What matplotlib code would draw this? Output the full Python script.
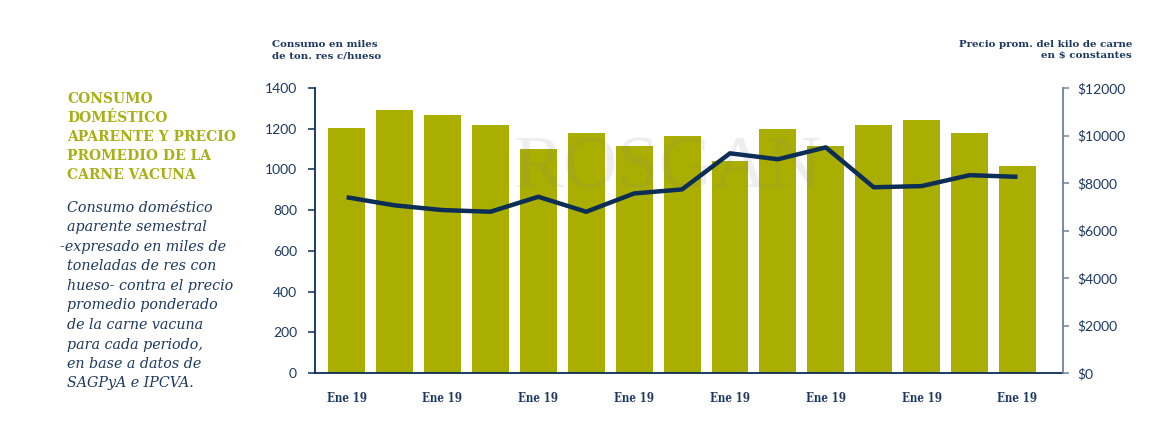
import matplotlib
matplotlib.use("Agg")
import matplotlib.pyplot as plt
import numpy as np

# ---- data ----
periods = list(range(15))
tick_positions = [0, 2, 4, 6, 8, 10, 12, 14]
tick_labels = ["Ene 19"] * 8
consumo = [1203, 1292, 1267, 1218, 1100, 1179, 1115, 1164, 1043, 1200, 1115, 1220, 1243, 1180, 1017]
precio = [7400, 7060, 6860, 6790, 7420, 6790, 7560, 7730, 9250, 9000, 9500, 7820, 7870, 8330, 8260]
left_ticks = [0, 200, 400, 600, 800, 1000, 1200, 1400]
right_ticks = [0, 2000, 4000, 6000, 8000, 10000, 12000]

title_lines = ["CONSUMO", "DOMÉSTICO", "APARENTE Y PRECIO", "PROMEDIO DE LA", "CARNE VACUNA"]
desc_lines = ["Consumo doméstico", "aparente semestral", "-expresado en miles de",
              "toneladas de res con", "hueso- contra el precio", "promedio ponderado",
              "de la carne vacuna", "para cada periodo,", "en base a datos de",
              "SAGPyA e IPCVA."]

OLIVE = "#aaae00"
TITLE_OLIVE = "#a8b014"
NAVY = "#0c2d56"
TXT = "#1d3962"
RSPINE = "#6f819b"

W, H = 1152, 434
fig = plt.figure(figsize=(W / 100, H / 100), dpi=100)
fig.patch.set_facecolor("white")

ax = fig.add_axes([315 / W, 1 - 373 / H, (1063 - 315) / W, (373 - 88) / H])
ax2 = ax.twinx()

ax.bar(periods, consumo, width=0.77, color=OLIVE, zorder=2)
ax.set_xlim(-0.66, 14.95)
ax.set_ylim(0, 1400)
ax2.set_ylim(0, 12000)

ax2.plot(periods, precio, color=NAVY, lw=3.2, solid_joinstyle="round",
         solid_capstyle="butt", zorder=5)

# watermark
ax.text(6.7, 1000, "ROSGAN", fontsize=54, family="Liberation Serif",
        color="#7d8299", alpha=0.13, ha="center", va="center", zorder=3)

# spines
for s in ["top"]:
    ax.spines[s].set_visible(False)
    ax2.spines[s].set_visible(False)
ax.spines["right"].set_visible(False)
ax2.spines["left"].set_visible(False)
ax2.spines["bottom"].set_visible(False)
ax.spines["left"].set_color(NAVY)
ax.spines["left"].set_linewidth(1.3)
ax.spines["bottom"].set_color(NAVY)
ax.spines["bottom"].set_linewidth(1.3)
ax2.spines["right"].set_color(RSPINE)
ax2.spines["right"].set_linewidth(1.3)

ax.set_yticks(left_ticks)
ax.set_yticklabels([str(v) for v in left_ticks], family="Lato", fontsize=10, color=TXT)
ax.tick_params(axis="y", direction="out", length=5, width=1.1, color=NAVY, pad=8)
ax2.set_yticks(right_ticks)
ax2.set_yticklabels([f"${v}" for v in right_ticks], family="Lato", fontsize=10, color=TXT)
ax2.tick_params(axis="y", direction="out", length=4, width=1.1, color=RSPINE, pad=6)

ax.set_xticks(tick_positions)
ax.set_xticklabels(tick_labels, family="DejaVu Serif", fontsize=8.3, fontweight="bold",
                   color=TXT, stretch="condensed")
ax.tick_params(axis="x", length=0, pad=14)

# axis headers
fig.text(272 / W, 1 - 50 / H, "Consumo en miles\nde ton. res c/hueso", family="DejaVu Serif",
         fontweight="bold", fontsize=7.4, color=TXT, ha="left", va="center", linespacing=1.35)
fig.text(1132 / W, 1 - 50 / H, "Precio prom. del kilo de carne\nen $ constantes",
         family="DejaVu Serif", fontweight="bold", fontsize=7.4, color=TXT,
         ha="right", va="center", linespacing=1.35, multialignment="right")

# title
for i, line in enumerate(title_lines):
    fig.text(67 / W, 1 - (99 + i * 19) / H, line, family="DejaVu Serif", fontweight="bold",
             fontsize=10, color=TITLE_OLIVE, ha="left", va="center")

# description
for i, line in enumerate(desc_lines):
    x = 60 if line.startswith("-") else 67
    fig.text(x / W, 1 - (208 + i * 19.5) / H, line, family="DejaVu Serif", style="italic",
             fontsize=10.3, color=TXT, ha="left", va="center")

fig.savefig("out.png", dpi=100)
